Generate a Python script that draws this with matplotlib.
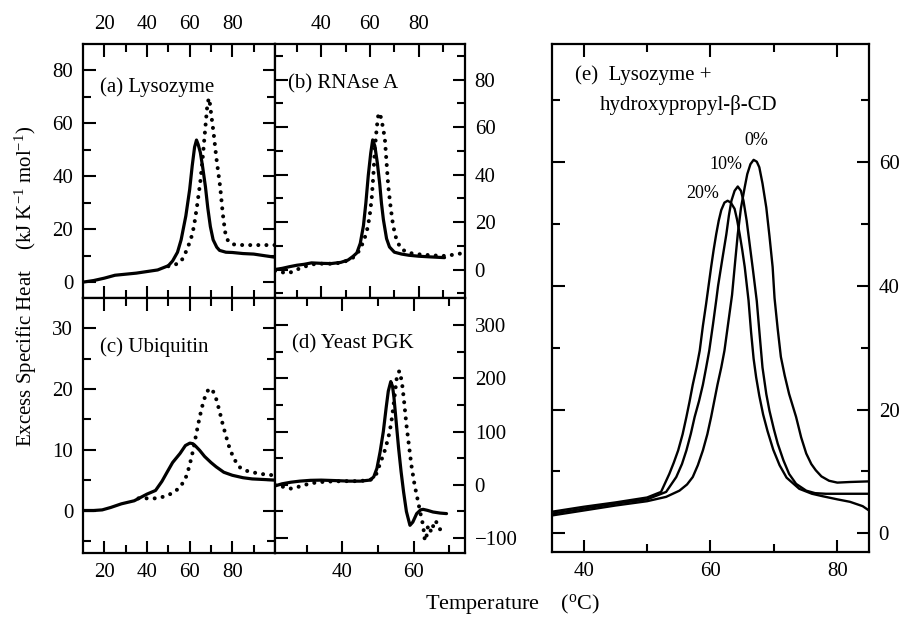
import matplotlib
matplotlib.use("Agg")
import matplotlib.pyplot as plt
from matplotlib.ticker import FixedLocator

plt.rcParams['font.family'] = ['Liberation Serif', 'DejaVu Serif']
plt.rcParams['mathtext.fontset'] = 'custom'
plt.rcParams['mathtext.rm'] = 'Liberation Serif'
plt.rcParams['mathtext.it'] = 'Liberation Serif:italic'

# ---------------- data ----------------
# (a) Lysozyme
a_T_sol = [10, 15, 20, 25, 30, 35, 40, 45, 50, 52, 54.3, 56, 58.2, 60, 61.2, 62.3, 63.2, 64, 65, 66, 67.4, 68.5, 69.7, 71, 72.7, 74, 77, 80, 85, 90, 95, 100]
a_Cp_sol = [0, 0.6, 1.5, 2.6, 3.0, 3.4, 4.0, 4.6, 6.2, 8, 11.3, 16, 25, 35, 44, 51, 53.7, 52, 49, 44, 36, 28, 21, 16, 13.2, 12, 11.3, 11.2, 10.8, 10.6, 10, 9.4]
a_T_dot = [50, 53, 56, 58, 60.5, 62, 63.5, 65, 66, 67.3, 68.4, 69.2, 70, 71.2, 72.5, 74.3, 75.5, 76.6, 78, 80, 85, 90, 95, 100]
a_Cp_dot = [6.0, 6.5, 7.8, 11, 16, 21, 29, 38, 46, 58, 68, 69.5, 64, 56.5, 47, 36, 26, 19, 15.5, 14.3, 14, 14, 14, 14]

# (b) RNAse A
b_T_sol = [21, 24, 27, 30, 33, 36, 40, 44, 48, 51, 53, 54.6, 56, 57.3, 58.3, 59.3, 60.3, 61.1, 62, 63, 64, 64.7, 65.5, 66.8, 68, 70, 73, 76, 80, 85, 90.6]
b_Cp_sol = [0, 0.5, 1.2, 1.8, 2.2, 2.8, 2.6, 2.5, 3, 4, 5.5, 7, 11, 18.4, 28, 39.7, 49, 54.6, 52, 45, 36, 28, 21, 13, 9.5, 7.3, 6.5, 6, 5.6, 5.3, 5]
b_T_dot = [21, 24, 27, 30, 34, 38, 42, 46, 50, 53, 55, 57, 58.6, 59.8, 60.7, 61.4, 62, 62.8, 63.4, 63.9, 64.5, 65.3, 66.1, 66.8, 67.5, 68.5, 69.5, 71, 73, 76, 80, 85, 90, 95, 99]
b_Cp_dot = [-0.6, -1.2, -1.4, 0, 1.5, 2.5, 2.4, 2.5, 3.5, 5, 7, 11, 15.6, 22, 30, 40, 51, 60, 65, 66, 64, 60, 55, 45, 35, 26, 18.4, 12, 8.5, 7, 6.4, 6, 5.7, 6.3, 7.1]

# (c) Ubiquitin
c_T_sol = [10, 15, 19, 23, 28, 34, 40, 44, 47, 49.4, 52, 55.5, 58, 60.1, 61.5, 62.8, 64.7, 67, 70, 72.4, 76, 80, 85, 89.3, 95, 100]
c_Cp_sol = [0, 0, 0.1, 0.5, 1.1, 1.6, 2.7, 3.3, 4.8, 6.3, 7.9, 9.4, 10.7, 11.1, 11.0, 10.6, 9.9, 8.9, 7.9, 7.2, 6.3, 5.8, 5.4, 5.2, 5.1, 5.0]
c_T_dot = [36, 40, 44.7, 48, 52.3, 55, 57.8, 59.8, 61.6, 63.2, 64.7, 66.2, 67.7, 69, 70, 71, 72.5, 73.9, 75.5, 77, 78.5, 80.5, 83.1, 86, 89.3, 94, 99.3]
c_Cp_dot = [2.0, 2.0, 2.0, 2.3, 2.9, 3.7, 5.0, 7.2, 9.9, 12.8, 15.4, 17.6, 19.3, 20.0, 20.1, 19.6, 18.3, 16.5, 14.2, 12.3, 10.5, 8.7, 7.2, 6.6, 6.3, 6.0, 5.8]

# (d) Yeast PGK
d_T_sol = [21, 23, 25.5, 28, 31, 34, 38, 42, 45, 47.8, 48.8, 49.7, 50.6, 51.5, 52.3, 52.9, 53.6, 54.1, 54.5, 55.1, 55.8, 56.5, 57.2, 58, 59, 59.8, 60.9, 62, 62.7, 64, 65.5, 67.5, 69.3]
d_Cp_sol = [-2, 2, 5, 7, 8.5, 8.9, 8, 7, 7, 9, 15, 31, 62, 100, 145, 176, 194, 185, 164, 120, 69, 25, -13, -50, -76, -70, -54, -47, -46, -48, -51, -53, -54]
d_T_dot = [21, 23.5, 25.5, 28, 31, 35, 40, 45, 48, 49.5, 50.6, 51.8, 52.9, 53.7, 54.3, 55.3, 56, 56.7, 57.3, 58, 58.7, 59.4, 60.3, 61.3, 62, 62.7, 63.2, 63.7, 64.1, 64.6, 65, 65.5, 66, 66.7, 67.4, 67.8]
d_Cp_dot = [0, -4, -7, -3, 3, 6, 7, 7, 10, 20, 40, 62, 88, 115, 145, 202, 214, 195, 160, 113, 75, 37, 0, -32, -55, -76, -105, -95, -76, -82, -89, -78, -67, -72, -83, -85]

# (e) Lysozyme + hydroxypropyl-beta-CD (0 %, 10 %, 20 %)
e_T_0 = [35, 40, 45, 50, 53, 55.1, 56.3, 57.2, 58.0, 58.8, 59.5, 60.1, 60.6, 61.1, 61.7, 62.2, 62.8, 63.4, 63.9, 64.3,
         64.8, 65.4, 65.8, 66.3, 66.8, 67.3, 67.7, 68.2, 68.8, 69.3, 69.8, 70.1, 70.6, 71.1, 71.7, 72.4, 73.5, 74.3,
         75.1, 75.9, 76.6, 77.5, 78.7, 80, 82, 85]
e_Cp_0 = [2.9, 3.7, 4.5, 5.2, 5.9, 6.9, 7.9, 9.1, 11.0, 13.4, 16.0, 18.8, 21.4, 24, 26.8, 29.5, 34, 38.5, 44, 48.3,
          52.5, 55.9, 58.0, 59.6, 60.3, 60.0, 59.1, 56.5, 52.6, 48, 43, 38, 33, 28.5, 25.5, 22.5, 18.8, 15.5,
          12.9, 11.2, 10.2, 9.2, 8.5, 8.2, 8.3, 8.4]
e_T_10 = [35, 40, 45, 50, 53, 54.6, 55.5, 56.2, 56.9, 57.5, 58.2, 58.8, 59.3, 59.8, 60.4, 60.9, 61.2, 61.9, 62.5, 62.9,
          63.3, 63.8, 64.3, 64.8, 65.2, 65.7, 66.1, 66.7, 67.3, 67.8, 68.2, 68.8, 69.3, 70, 70.6, 71.5, 72.4, 73.5,
          75.1, 76.5, 78.2, 81, 85]
e_Cp_10 = [3.2, 4.0, 4.8, 5.5, 6.7, 9.1, 11.2, 13.4, 16.1, 18.8, 21.4, 24, 26.7, 29.5, 33.8, 37.6, 40, 44.5, 48.3, 51.3,
           53.7, 55.3, 56, 55.3, 53.7, 50.5, 47.3, 42.5, 37.5, 31.5, 26.8, 22.5, 19.8, 16.8, 14.5, 11.8, 9.6, 8.0,
           6.9, 6.5, 6.4, 6.4, 6.4]
e_T_20 = [35, 40, 45, 50, 52.2, 53.5, 54.2, 54.9, 55.6, 56.2, 56.7, 57.2, 57.8, 58.3, 58.8, 59.3, 59.7, 60.1, 60.5, 60.9,
          61.3, 61.7, 62.2, 62.7, 63.2, 63.8, 64.2, 64.6, 65.0, 65.4, 65.7, 66.0, 66.4, 66.8, 67.2, 67.7, 68.3, 69,
          69.9, 70.9, 72, 74, 76, 77.7, 80, 82, 84, 85]
e_Cp_20 = [3.5, 4.3, 5.0, 5.8, 6.7, 9.6, 11.4, 13.4, 16.0, 18.8, 21.3, 24, 26.8, 29.5, 33.5, 37, 40, 43, 45.8, 48.3,
           50.5, 52.2, 53.4, 53.7, 53.4, 52.4, 50.6, 48.3, 45.8, 43, 40.3, 37.6, 32.5, 28.2, 25.2, 22.2, 19.2, 16.5,
           13.5, 11, 9, 7.2, 6.4, 6.0, 5.5, 5.1, 4.4, 3.7]
e_labels = ['0%', '10%', '20%']
e_label_T = [65.4, 59.8, 56.2]
e_label_Cp = [62.7, 58.8, 54.1]

# ---------------- figure ----------------
W, H = 903, 627
fig = plt.figure(figsize=(W / 100, H / 100), dpi=100)


def ax_px(l, t, r, b):
    return fig.add_axes([l / W, 1 - b / H, (r - l) / W, (b - t) / H])


FS = 15
SOL = dict(color='black', lw=2.3, solid_joinstyle='round', solid_capstyle='round')
DOT = dict(color='black', lw=2.9, linestyle=(0, (0.01, 2.0)), dash_capstyle='round')


def style(ax, xmaj, xmin, ymaj, ymin, lt=False, lb=False, ll=False, lr=False):
    ax.xaxis.set_major_locator(FixedLocator(xmaj))
    ax.xaxis.set_minor_locator(FixedLocator(xmin))
    ax.yaxis.set_major_locator(FixedLocator(ymaj))
    ax.yaxis.set_minor_locator(FixedLocator(ymin))
    ax.tick_params(which='both', direction='in', top=True, bottom=True, left=True, right=True,
                   labeltop=lt, labelbottom=lb, labelleft=ll, labelright=lr,
                   labelsize=FS, width=1.5, pad=7)
    ax.tick_params(which='major', length=9)
    ax.tick_params(which='minor', length=6)
    for s in ax.spines.values():
        s.set_linewidth(1.6)


# panel (a)
axa = ax_px(83, 44, 275, 298)
axa.plot(a_T_sol, a_Cp_sol, **SOL)
axa.plot(a_T_dot, a_Cp_dot, **DOT)
axa.set_xlim(10, 100)
axa.set_ylim(-6, 90)
style(axa, [20, 40, 60, 80], [30, 50, 70, 90], [0, 20, 40, 60, 80], [10, 30, 50, 70], lt=True, ll=True)
axa.text(0.089, 0.811, '(a) Lysozyme', transform=axa.transAxes, fontsize=FS, va='baseline')

# panel (b)
axb = ax_px(275, 44, 465, 298)
axb.plot(b_T_sol, b_Cp_sol, **SOL)
axb.plot(b_T_dot, b_Cp_dot, **DOT)
axb.set_xlim(21, 99)
axb.set_ylim(-12, 95)
style(axb, [40, 60, 80], [30, 50, 70, 90], [0, 20, 40, 60, 80], [-10, 10, 30, 50, 70, 90], lt=True, lr=True)
axb.text(0.07, 0.826, '(b) RNAse A', transform=axb.transAxes, fontsize=FS, va='baseline')

# panel (c)
axc = ax_px(83, 298, 275, 553)
axc.plot(c_T_sol, c_Cp_sol, **SOL)
axc.plot(c_T_dot, c_Cp_dot, **DOT)
axc.set_xlim(10, 100)
axc.set_ylim(-7, 35)
style(axc, [20, 40, 60, 80], [30, 50, 70, 90], [0, 10, 20, 30], [-5, 5, 15, 25], lb=True, ll=True)
axc.text(0.089, 0.789, '(c) Ubiquitin', transform=axc.transAxes, fontsize=FS, va='baseline')

# panel (d)
axd = ax_px(275, 298, 465, 553)
axd.plot(d_T_sol, d_Cp_sol, **SOL)
axd.plot(d_T_dot, d_Cp_dot, **DOT)
axd.set_xlim(21, 74.5)
axd.set_ylim(-128, 351)
style(axd, [40, 60], [30, 50, 70], [-100, 0, 100, 200, 300], [-50, 50, 150, 250], lb=True, lr=True)
axd.text(0.088, 0.803, '(d) Yeast PGK', transform=axd.transAxes, fontsize=FS, va='baseline')

# panel (e)
axe = ax_px(552, 44, 869, 552)
for T, Cp in [(e_T_0, e_Cp_0), (e_T_10, e_Cp_10), (e_T_20, e_Cp_20)]:
    axe.plot(T, Cp, color='black', lw=1.7, solid_joinstyle='round')
axe.set_xlim(35, 85)
axe.set_ylim(-3, 79)
style(axe, [40, 60, 80], [50, 70], [0, 20, 40, 60], [10, 30, 50, 70], lb=True, lr=True)
axe.text(0.0726, 0.929, '(e)  Lysozyme +', transform=axe.transAxes, fontsize=FS, va='baseline')
axe.text(0.151, 0.870, 'hydroxypropyl-\u03b2-CD', transform=axe.transAxes, fontsize=FS, va='baseline')
for lab, tx, ty in zip(e_labels, e_label_T, e_label_Cp):
    axe.text(tx, ty, lab, fontsize=13, va='baseline', ha='left')

# axis titles
fig.text(26 / W, 1 - 286 / H, 'Excess Specific Heat    (kJ K$^{-1}$ mol$^{-1}$)',
         rotation=90, ha='center', va='center', fontsize=FS)
fig.text(513 / W, 1 - 604 / H, 'Temperature    ($^{\\rm o}$C)', ha='center', va='center', fontsize=16)

fig.savefig('out.png', dpi=100)
